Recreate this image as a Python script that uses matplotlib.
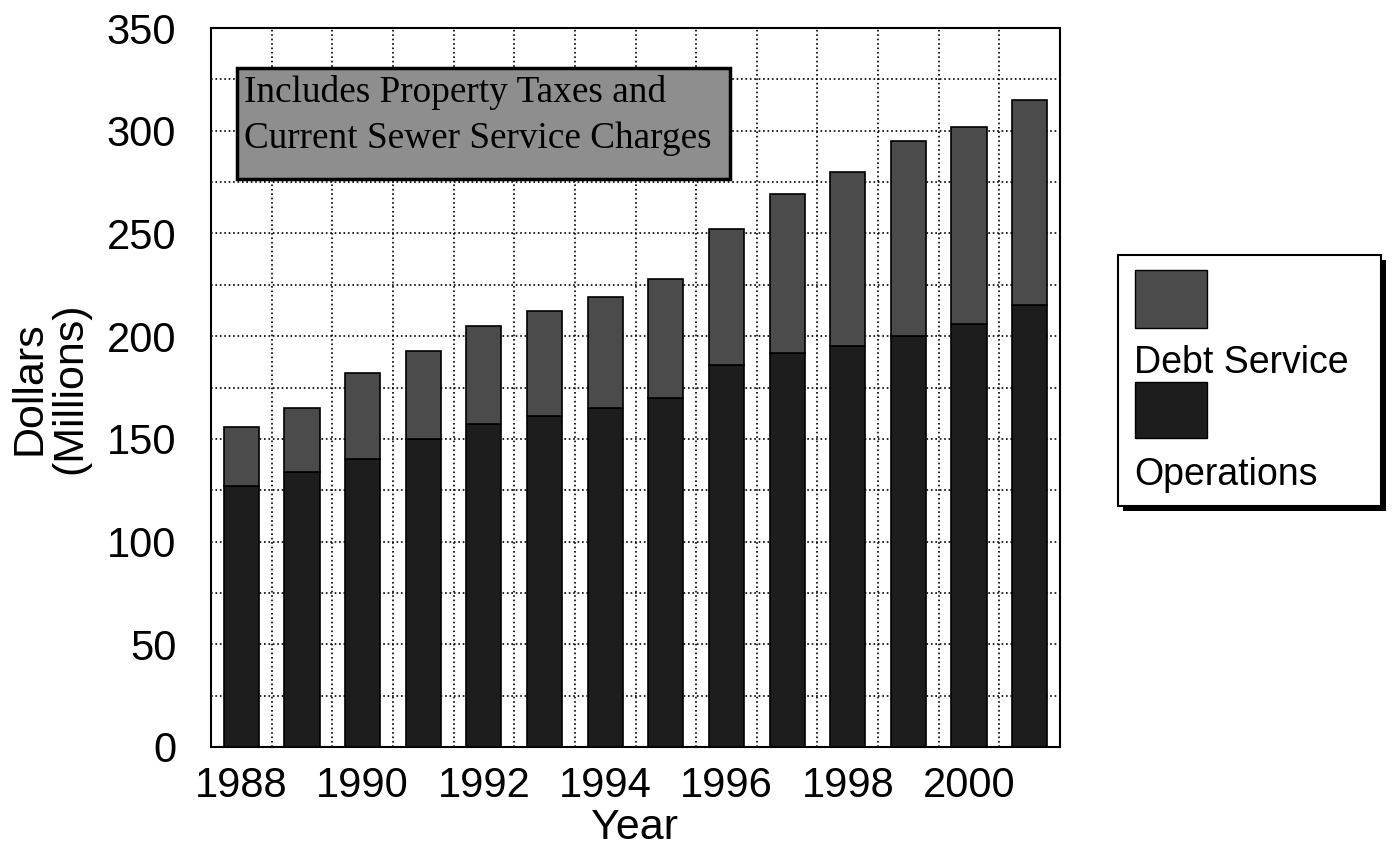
import matplotlib.pyplot as plt
import numpy as np
from matplotlib.patches import Rectangle

# revenue requirement by year, millions of dollars
years = [1988, 1989, 1990, 1991, 1992, 1993, 1994,
         1995, 1996, 1997, 1998, 1999, 2000, 2001]
operations = [127, 134, 140, 150, 157, 161, 165, 170, 186, 192, 195, 200, 206, 215]
debt_service = [29, 31, 42, 43, 48, 51, 54, 58, 66, 77, 85, 95, 96, 100]
year_labels = [1988, 1990, 1992, 1994, 1996, 1998, 2000]

ops_color = "#1d1d1d"
debt_color = "#4b4b4b"
note_color = "#8e8e8e"

W, H = 1395, 849
fig = plt.figure(figsize=(W / 100, H / 100), dpi=100)
plt.rcParams['font.family'] = ['Liberation Sans', 'DejaVu Sans']

def fx(px):
    return px / W

def fy(py):
    return 1 - py / H

ax = fig.add_axes([fx(211), fy(747), fx(1060) - fx(211), fy(28) - fy(747)])

ax.bar(years, operations, width=0.58, color=ops_color, edgecolor="black", linewidth=1.2, zorder=3)
ax.bar(years, debt_service, width=0.58, bottom=operations, color=debt_color,
       edgecolor="black", linewidth=1.2, zorder=3)

ax.set_xlim(1987.5, 2001.5)
ax.set_ylim(0, 350)
ax.set_yticks(np.arange(0, 351, 50))
ax.set_yticks(np.arange(25, 350, 50), minor=True)
ax.set_xticks(year_labels)
ax.set_xticks(np.arange(1988.5, 2001, 1), minor=True)

ax.grid(True, which="major", axis="y", color="black", linestyle=":", linewidth=1.2, zorder=0)
ax.grid(True, which="minor", color="black", linestyle=":", linewidth=1.2, zorder=0)
ax.tick_params(axis="both", which="both", length=0, labelsize=30)
ax.tick_params(axis="y", pad=25)
ax.tick_params(axis="x", pad=14)
for s in ax.spines.values():
    s.set_linewidth(1.5)

# note box
fig.patches.append(Rectangle((fx(237), fy(179)), fx(730) - fx(237), fy(68) - fy(179),
                             transform=fig.transFigure, facecolor=note_color,
                             edgecolor="black", linewidth=2.5, zorder=5))
fig.text(fx(244), fy(102), "Includes Property Taxes and", family="Liberation Serif",
         fontsize=26.8, va="baseline", ha="left", zorder=6)
fig.text(fx(244), fy(148), "Current Sewer Service Charges", family="Liberation Serif",
         fontsize=26.8, va="baseline", ha="left", zorder=6)

# legend drawn by hand: swatch above each label
fig.patches.append(Rectangle((fx(1123), fy(511)), fx(1386) - fx(1123), fy(260) - fy(511),
                             transform=fig.transFigure, facecolor="black", edgecolor="none"))
fig.patches.append(Rectangle((fx(1118), fy(506)), fx(1381) - fx(1118), fy(255) - fy(506),
                             transform=fig.transFigure, facecolor="white",
                             edgecolor="black", linewidth=1.5))
fig.patches.append(Rectangle((fx(1135), fy(328)), fx(1207) - fx(1135), fy(270) - fy(328),
                             transform=fig.transFigure, facecolor=debt_color,
                             edgecolor="black", linewidth=1))
fig.patches.append(Rectangle((fx(1135), fy(438)), fx(1207) - fx(1135), fy(382) - fy(438),
                             transform=fig.transFigure, facecolor=ops_color,
                             edgecolor="black", linewidth=1))
fig.text(fx(1134), fy(373), "Debt Service", fontsize=27, va="baseline", ha="left")
fig.text(fx(1134), fy(485), "Operations", fontsize=27, va="baseline", ha="left")

fig.text(fx(50), fy(388), "Dollars\n(Millions)", fontsize=31, rotation=90,
         ha="center", va="center", multialignment="center", linespacing=1.0)
fig.text(fx(635), fy(828), "Year", fontsize=31, ha="center", va="center")

fig.savefig("out.png", dpi=100)
